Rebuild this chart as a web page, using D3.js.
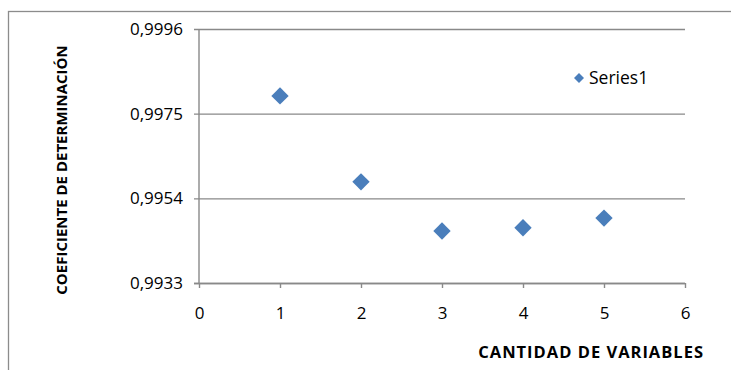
<!DOCTYPE html>
<html>
<head>
<meta charset="utf-8">
<script src="https://cdn.jsdelivr.net/npm/d3@7"></script>
<style>
  html, body { margin: 0; padding: 0; background: #fff; }
  svg { display: block; }
</style>
</head>
<body>
<svg id="chart" width="731" height="370"></svg>
<script>
// Number of variables vs. coefficient of determination
const variables = [1, 2, 3, 4, 5];
const r2Values = [0.99794, 0.99581, 0.99459, 0.99467, 0.99491];
const seriesName = "Series1";
const xTicks = [0, 1, 2, 3, 4, 5, 6];
const yTicks = [0.9933, 0.9954, 0.9975, 0.9996];
const xTitle = "CANTIDAD DE VARIABLES";
const yTitle = "COEFICIENTE DE DETERMINACIÓN";

const W = 731, H = 370;
const plot = { left: 199, right: 685, top: 29, bottom: 283 };
const gridColor = "#898989";
const markerColor = "#4A7EBB";
const font = "'Open Sans', sans-serif";

const svg = d3.select("#chart");

// outer chart frame (extends past the window on the right and bottom)
svg.append("rect")
  .attr("x", 8.5).attr("y", 11.5)
  .attr("width", W + 20).attr("height", H + 20)
  .attr("fill", "#fff")
  .attr("stroke", "#8c8c8c")
  .attr("stroke-width", 1.3);

const x = d3.scaleLinear().domain([0, 6]).range([plot.left, plot.right]);
const y = d3.scaleLinear().domain([yTicks[0], yTicks[yTicks.length - 1]]).range([plot.bottom, plot.top]);

// horizontal gridlines with short ticks to the left of the axis
const yAxis = d3.axisLeft(y)
  .tickValues(yTicks)
  .tickSize(-(plot.right - plot.left))
  .tickPadding(12)
  .tickFormat(d => d3.format(".4f")(d).replace(".", ","));

const gy = svg.append("g")
  .attr("transform", `translate(${plot.left},0)`)
  .call(yAxis);
gy.select(".domain").remove();
gy.selectAll(".tick line")
  .attr("x1", -5)
  .attr("stroke", gridColor)
  .attr("stroke-width", 1.4);
gy.selectAll(".tick text")
  .attr("x", -16)
  .attr("font-family", font)
  .attr("font-size", 17)
  .attr("fill", "#000");

// vertical value axis line
svg.append("line")
  .attr("x1", plot.left).attr("x2", plot.left)
  .attr("y1", plot.top).attr("y2", plot.bottom)
  .attr("stroke", gridColor)
  .attr("stroke-width", 1.4);

// category axis at the bottom
const xAxis = d3.axisBottom(x)
  .tickValues(xTicks)
  .tickSize(5)
  .tickPadding(19)
  .tickFormat(d3.format("d"));

const gx = svg.append("g")
  .attr("transform", `translate(0,${plot.bottom})`)
  .call(xAxis);
gx.select(".domain")
  .attr("d", `M${plot.left - 5},0.5H${plot.right}`)
  .attr("stroke", gridColor)
  .attr("stroke-width", 1.4);
gx.selectAll(".tick line")
  .attr("stroke", gridColor)
  .attr("stroke-width", 1.4);
gx.selectAll(".tick text")
  .attr("font-family", font)
  .attr("font-size", 17)
  .attr("fill", "#000");

// data markers (diamonds)
const diamond = d3.symbol().type(d3.symbolSquare).size(150);
svg.append("g")
  .selectAll("path")
  .data(variables.map((v, i) => ({ v, r: r2Values[i] })))
  .join("path")
  .attr("d", diamond)
  .attr("transform", d => `translate(${x(d.v)},${y(d.r)}) rotate(45)`)
  .attr("fill", markerColor);

// legend
const legend = svg.append("g").attr("transform", "translate(579,78)");
legend.append("path")
  .attr("d", d3.symbol().type(d3.symbolSquare).size(50)())
  .attr("transform", "rotate(45)")
  .attr("fill", markerColor);
legend.append("text")
  .attr("x", 10).attr("y", 0)
  .attr("dy", "0.35em")
  .attr("font-family", font)
  .attr("font-size", 17.5)
  .attr("fill", "#000")
  .text(seriesName);

// axis titles
svg.append("text")
  .attr("x", 704).attr("y", 352)
  .attr("dy", "0.35em")
  .attr("text-anchor", "end")
  .attr("font-family", font)
  .attr("font-weight", "bold")
  .attr("font-size", 16.5)
  .attr("letter-spacing", 1)
  .attr("fill", "#000")
  .text(xTitle);

svg.append("text")
  .attr("transform", "translate(62,170) rotate(-90)")
  .attr("dy", "0.35em")
  .attr("text-anchor", "middle")
  .attr("font-family", font)
  .attr("font-weight", "bold")
  .attr("font-size", 15)
  .attr("fill", "#000")
  .text(yTitle);
</script>
</body>
</html>
